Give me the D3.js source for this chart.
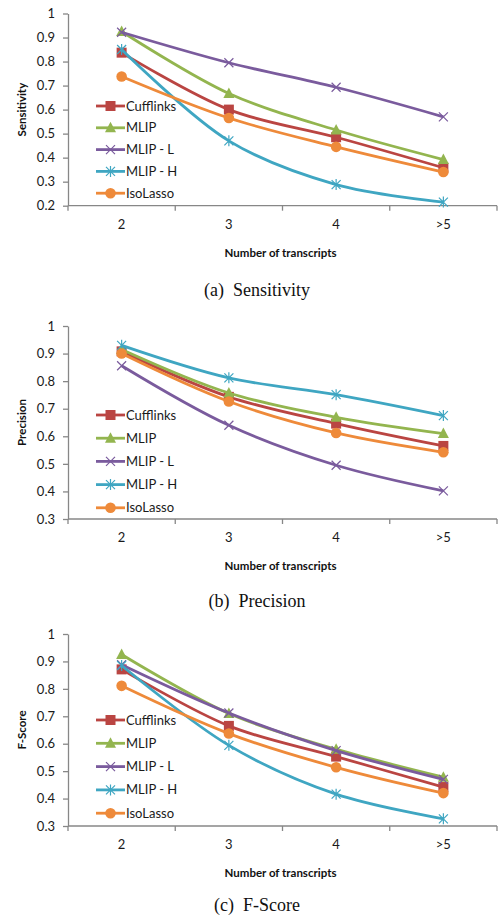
<!DOCTYPE html>
<html>
<head>
<meta charset="utf-8">
<script src="https://cdn.jsdelivr.net/npm/d3@7"></script>
<style>
  body { margin: 0; background: #fff; }
  svg { display: block; }
</style>
</head>
<body>
<div id="chart"></div>
<script>
const categories = ["2", "3", "4", ">5"];
const seriesNames = ["Cufflinks", "MLIP", "MLIP - L", "MLIP - H", "IsoLasso"];

// Sensitivity
const sensCufflinks = [0.837, 0.600, 0.485, 0.358];
const sensMLIP      = [0.925, 0.667, 0.515, 0.392];
const sensMLIPL     = [0.922, 0.795, 0.693, 0.570];
const sensMLIPH     = [0.850, 0.470, 0.288, 0.215];
const sensIsoLasso  = [0.738, 0.565, 0.445, 0.340];

// Precision
const precCufflinks = [0.908, 0.743, 0.646, 0.565];
const precMLIP      = [0.915, 0.757, 0.669, 0.610];
const precMLIPL     = [0.856, 0.640, 0.495, 0.402];
const precMLIPH     = [0.930, 0.812, 0.751, 0.675];
const precIsoLasso  = [0.900, 0.726, 0.612, 0.542];

// F-Score
const fCufflinks = [0.871, 0.665, 0.553, 0.442];
const fMLIP      = [0.925, 0.710, 0.580, 0.478];
const fMLIPL     = [0.888, 0.712, 0.575, 0.470];
const fMLIPH     = [0.885, 0.594, 0.416, 0.326];
const fIsoLasso  = [0.811, 0.637, 0.514, 0.420];

const sensTicks = [0.2, 0.3, 0.4, 0.5, 0.6, 0.7, 0.8, 0.9, 1];
const precTicks = [0.3, 0.4, 0.5, 0.6, 0.7, 0.8, 0.9, 1];
const fTicks    = [0.3, 0.4, 0.5, 0.6, 0.7, 0.8, 0.9, 1];

const colors = ["#BA4542", "#93B54F", "#7A5B9D", "#3FA6C2", "#EE8A3A"];
const shapes = ["square", "triangle", "x", "asterisk", "circle"];

const panels = [
  {yLabel: "Sensitivity", caption: ["(a)", "Sensitivity"], ticks: sensTicks,
   data: [sensCufflinks, sensMLIP, sensMLIPL, sensMLIPH, sensIsoLasso],
   top: 13.5, bottom: 205.7, legendY: 106, legendStep: 21.8, capOff: 90},
  {yLabel: "Precision", caption: ["(b)", "Precision"], ticks: precTicks,
   data: [precCufflinks, precMLIP, precMLIPL, precMLIPH, precIsoLasso],
   top: 326, bottom: 519, legendY: 415, legendStep: 23.2, capOff: 88},
  {yLabel: "F-Score", caption: ["(c)", "F-Score"], ticks: fTicks,
   data: [fCufflinks, fMLIP, fMLIPL, fMLIPH, fIsoLasso],
   top: 634, bottom: 826, legendY: 720, legendStep: 23.3, capOff: 85}
];

const W = 499, H = 922;
const left = 68, right = 497;
const axisColor = "#878787";
const font = "Lato, 'Open Sans', sans-serif";

const svg = d3.select("#chart").append("svg")
  .attr("width", W).attr("height", H);

const x = d3.scaleBand().domain(categories).range([left, right]);

function marker(g, shape, color, cx, cy) {
  if (shape === "square") {
    g.append("rect").attr("x", cx - 5).attr("y", cy - 5).attr("width", 10).attr("height", 10)
      .attr("fill", color);
  } else if (shape === "triangle") {
    g.append("path").attr("d", `M${cx},${cy - 6}L${cx + 5.5},${cy + 4.5}L${cx - 5.5},${cy + 4.5}Z`)
      .attr("fill", color);
  } else if (shape === "circle") {
    g.append("circle").attr("cx", cx).attr("cy", cy).attr("r", 5.3).attr("fill", color);
  } else if (shape === "x") {
    g.append("path").attr("d", `M${cx - 4.5},${cy - 4.5}L${cx + 4.5},${cy + 4.5}M${cx - 4.5},${cy + 4.5}L${cx + 4.5},${cy - 4.5}`)
      .attr("stroke", color).attr("stroke-width", 1.2).attr("fill", "none");
  } else if (shape === "asterisk") {
    g.append("path").attr("d", `M${cx - 4.5},${cy - 4.5}L${cx + 4.5},${cy + 4.5}M${cx - 4.5},${cy + 4.5}L${cx + 4.5},${cy - 4.5}M${cx},${cy - 5.5}L${cx},${cy + 5.5}`)
      .attr("stroke", color).attr("stroke-width", 1.2).attr("fill", "none");
  }
}

panels.forEach(p => {
  const y = d3.scaleLinear().domain([d3.min(p.ticks), 1]).range([p.bottom, p.top]);
  const g = svg.append("g");

  // y axis
  const ya = g.append("g").attr("transform", `translate(${left},0)`)
    .call(d3.axisLeft(y).tickValues(p.ticks).tickSize(5).tickSizeOuter(0).tickPadding(8)
      .tickFormat(d => d3.format("")(+d.toFixed(1))));
  ya.select(".domain").attr("stroke", axisColor).attr("stroke-width", 1.3);
  ya.selectAll(".tick line").attr("stroke", axisColor).attr("stroke-width", 1.3);
  ya.selectAll(".tick text").attr("font-family", font).attr("font-size", 13).attr("fill", "#1a1a1a");

  // x axis
  const xa = g.append("g").attr("transform", `translate(0,${p.bottom})`)
    .call(d3.axisBottom(x).tickSize(0).tickPadding(14));
  xa.select(".domain").remove();
  xa.selectAll(".tick text").attr("font-family", font).attr("font-size", 13).attr("fill", "#1a1a1a");
  g.append("line").attr("x1", left).attr("x2", right).attr("y1", p.bottom).attr("y2", p.bottom)
    .attr("stroke", axisColor).attr("stroke-width", 1.3);
  const bounds = categories.map(c => x(c)).concat([x.range()[1]]);
  g.selectAll(".xt").data(bounds).enter().append("line")
    .attr("x1", d => d).attr("x2", d => d).attr("y1", p.bottom).attr("y2", p.bottom + 5)
    .attr("stroke", axisColor).attr("stroke-width", 1.3);

  // titles
  g.append("text").attr("x", (left + right) / 2 - 2).attr("y", p.bottom + 51)
    .attr("text-anchor", "middle").attr("font-family", font).attr("font-weight", "bold")
    .attr("font-size", 11.5).attr("fill", "#111").text("Number of transcripts");
  g.append("text").attr("transform", `translate(26,${(p.top + p.bottom) / 2}) rotate(-90)`)
    .attr("text-anchor", "middle").attr("font-family", font).attr("font-weight", "bold")
    .attr("font-size", 11.5).attr("fill", "#111").text(p.yLabel);
  const cap = g.append("text").attr("x", 257).attr("y", p.bottom + p.capOff)
    .attr("text-anchor", "middle").attr("font-family", "'Liberation Serif', 'Times New Roman', serif")
    .attr("font-size", 18).attr("fill", "#111");
  cap.append("tspan").text(p.caption[0]);
  cap.append("tspan").attr("dx", 9).text(p.caption[1]);

  // lines
  const line = d3.line()
    .x((d, i) => x(categories[i]) + x.bandwidth() / 2)
    .y(d => y(d))
    .curve(d3.curveCatmullRom.alpha(0.5));

  p.data.forEach((vals, si) => {
    g.append("path").datum(vals).attr("d", line)
      .attr("fill", "none").attr("stroke", colors[si]).attr("stroke-width", 2.8)
      .attr("stroke-linejoin", "round");
    const mg = g.append("g");
    vals.forEach((v, i) => marker(mg, shapes[si], colors[si], x(categories[i]) + x.bandwidth() / 2, y(v)));
  });

  // legend
  seriesNames.forEach((name, si) => {
    const ly = p.legendY + si * p.legendStep;
    const lg = g.append("g");
    lg.append("line").attr("x1", 96).attr("x2", 125).attr("y1", ly).attr("y2", ly)
      .attr("stroke", colors[si]).attr("stroke-width", 2.8);
    marker(lg, shapes[si], colors[si], 110.5, ly);
    lg.append("text").attr("x", 126).attr("y", ly).attr("dy", "0.35em")
      .attr("font-family", font).attr("font-size", 13).attr("fill", "#1a1a1a").text(name);
  });
});
</script>
</body>
</html>
